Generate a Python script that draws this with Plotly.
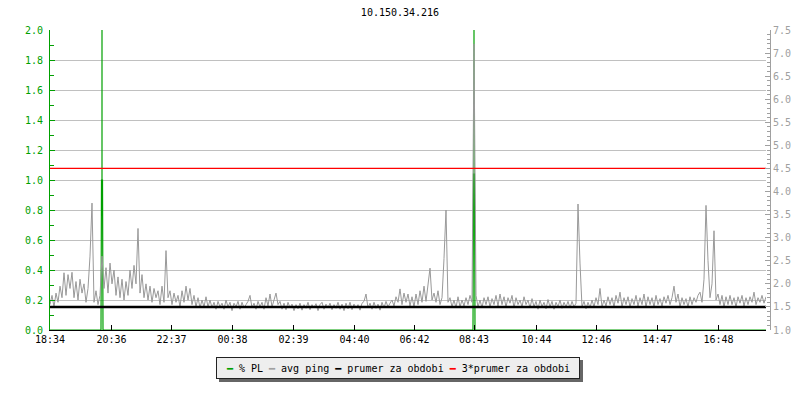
import plotly.graph_objects as go

MONO = "DejaVu Sans Mono"
GREEN = "#00a000"
GREY = "#999999"

title_text = "10.150.34.216"

# time axis in minutes from 18:34, one ping sample every 4 minutes
sample_step_min = 4
x_range_min = [0, 1432]
tick_minutes = [0, 123, 243, 365, 487, 609, 729, 848, 973, 1093, 1215, 1337]
tick_labels = ["18:34", "20:36", "22:37", "00:38", "02:39", "04:40",
               "06:42", "08:43", "10:44", "12:46", "14:47", "16:48"]

# avg ping (right axis)
ping_values = [
    1.55, 1.75, 1.5, 1.8, 1.6, 1.95, 1.7, 2.24, 1.75, 2.2, 1.9, 2.25, 1.7, 2.05, 1.65, 2.1, 1.8, 2.0, 1.6, 1.9,
    2.6, 3.75, 1.6, 1.85, 1.55, 1.75, 2.6, 1.9, 2.35, 1.8, 2.45, 2.0, 2.3, 1.75, 2.15, 1.7, 2.1, 1.65, 2.05, 1.75,
    2.3, 1.9, 2.4, 2.0, 3.2, 1.8, 2.2, 1.7, 2.0, 1.65, 1.95, 1.6, 1.9, 1.7, 1.85, 1.55, 1.95, 1.6, 2.72, 1.7,
    1.85, 1.55, 1.8, 1.6, 1.75, 1.5, 1.85, 1.6, 1.95, 1.65, 1.9, 1.55, 1.75, 1.5, 1.7, 1.48, 1.65, 1.5, 1.72, 1.5,
    1.65, 1.48, 1.6, 1.45, 1.62, 1.5, 1.58, 1.45, 1.65, 1.5, 1.6, 1.42, 1.58, 1.5, 1.62, 1.45, 1.6, 1.48, 1.55, 1.62,
    1.75, 1.48, 1.58, 1.45, 1.62, 1.5, 1.6, 1.45, 1.7, 1.52, 1.78, 1.5, 1.65, 1.8, 1.55, 1.62, 1.45, 1.58, 1.44, 1.6,
    1.48, 1.56, 1.42, 1.55, 1.46, 1.58, 1.43, 1.55, 1.47, 1.6, 1.44, 1.55, 1.48, 1.57, 1.42, 1.55, 1.6, 1.45, 1.56, 1.48,
    1.58, 1.44, 1.55, 1.47, 1.6, 1.45, 1.56, 1.42, 1.58, 1.46, 1.6, 1.44, 1.56, 1.48, 1.55, 1.43, 1.58, 1.62, 1.78, 1.48,
    1.58, 1.45, 1.6, 1.47, 1.56, 1.43, 1.6, 1.48, 1.62, 1.5, 1.58, 1.65, 1.52, 1.72, 1.6, 1.89, 1.55, 1.8, 1.6, 1.78,
    1.52, 1.72, 1.5, 1.78, 1.55, 1.85, 1.6, 1.95, 1.62, 2.05, 2.34, 1.65, 1.8, 1.6, 1.85, 1.55, 1.7, 2.55, 3.6, 1.6,
    1.7, 1.5, 1.65, 1.48, 1.72, 1.5, 1.65, 1.52, 1.7, 1.55, 1.75, 1.6, 7.2, 1.75, 1.5, 1.65, 1.48, 1.7, 1.55, 1.72,
    1.5, 1.68, 1.55, 1.75, 1.52, 1.78, 1.55, 1.72, 1.5, 1.7, 1.58, 1.75, 1.48, 1.7, 1.55, 1.65, 1.5, 1.72, 1.55, 1.65,
    1.48, 1.68, 1.5, 1.62, 1.45, 1.65, 1.5, 1.6, 1.46, 1.66, 1.5, 1.62, 1.45, 1.6, 1.5, 1.65, 1.47, 1.6, 1.5, 1.62,
    1.48, 1.62, 1.5, 1.58, 3.73, 2.45, 1.5, 1.62, 1.46, 1.6, 1.48, 1.65, 1.5, 1.7, 1.55, 1.9, 1.5, 1.65, 1.52, 1.72,
    1.55, 1.7, 1.5, 1.75, 1.58, 1.82, 1.5, 1.7, 1.55, 1.72, 1.5, 1.68, 1.55, 1.75, 1.52, 1.7, 1.55, 1.78, 1.5, 1.72,
    1.55, 1.7, 1.5, 1.75, 1.55, 1.68, 1.52, 1.72, 1.58, 1.75, 1.55, 1.7, 1.95, 1.6, 1.78, 1.5, 1.7, 1.55, 1.68, 1.5,
    1.72, 1.55, 1.7, 1.6, 1.75, 1.82, 1.6, 2.1, 3.7, 2.5, 1.7, 2.0, 3.15, 1.65, 1.78, 1.55, 1.75, 1.5, 1.72, 1.55,
    1.75, 1.55, 1.7, 1.5, 1.72, 1.58, 1.75, 1.52, 1.7, 1.55, 1.72, 1.6, 1.82, 1.55, 1.7, 1.6, 1.75, 1.58, 1.72,
]
ping_minutes = [i * sample_step_min for i in range(len(ping_values))]

# packet loss (left axis)
pl_minutes = [0, 102, 103, 104, 104, 104, 105, 106, 846, 847, 848, 848, 848, 849, 850, 1432]
pl_values = [0, 0, 1.0, 1.0, 2.5, 1.0, 1.0, 0, 0, 1.04, 1.04, 2.5, 1.04, 1.04, 0, 0]

# period mean of ping and 3x mean
mean_ping = 1.5
mean_ping_x3 = 4.5

fig = go.Figure()

fig.add_trace(go.Scatter(
    x=pl_minutes, y=pl_values, mode="lines",
    line=dict(color=GREEN, width=1.2), yaxis="y", showlegend=False,
))
fig.add_trace(go.Scatter(
    x=ping_minutes, y=ping_values, mode="lines",
    line=dict(color=GREY, width=1), yaxis="y2", showlegend=False,
))
fig.add_trace(go.Scatter(
    x=x_range_min, y=[mean_ping, mean_ping], mode="lines",
    line=dict(color="black", width=2.5), yaxis="y2", showlegend=False,
))
fig.add_trace(go.Scatter(
    x=x_range_min, y=[mean_ping_x3, mean_ping_x3], mode="lines",
    line=dict(color="#ff0000", width=1.2), yaxis="y2", showlegend=False,
))

# the page body has an 8px margin, so the figure is 792x392 and sits at (8, 8)
fig.update_layout(
    width=792,
    height=392,
    margin=dict(l=42, r=30, t=22, b=70),
    plot_bgcolor="white",
    paper_bgcolor="white",
    font=dict(family=MONO, size=10, color="black"),
    title=dict(text=title_text, x=(400 - 8) / 792, xanchor="center",
               y=1 - 4 / 392, yanchor="middle",
               font=dict(family=MONO, size=10, color="black")),
    xaxis=dict(
        domain=[0, 716 / 720],
        range=x_range_min,
        tickmode="array", tickvals=tick_minutes, ticktext=tick_labels,
        ticks="inside", ticklen=5, tickcolor="black",
        showline=True, linecolor="black", linewidth=1,
        showgrid=False, zeroline=False,
        tickfont=dict(family=MONO, size=10, color="black"),
        layer="above traces",
        automargin=False,
    ),
    yaxis=dict(
        range=[0, 2],
        dtick=0.2, tickformat=".1f",
        ticks="inside", ticklen=5, tickcolor=GREEN,
        minor=dict(dtick=0.1, ticks="inside", ticklen=4, tickcolor=GREEN, showgrid=False),
        showline=True, linecolor=GREEN, linewidth=1,
        showgrid=True, gridcolor="#c0c0c0", gridwidth=1,
        zeroline=False,
        tickfont=dict(family=MONO, size=10, color=GREEN),
        ticklabelstandoff=4,
        layer="above traces",
        automargin=False,
    ),
    yaxis2=dict(
        range=[1, 7.5],
        overlaying="y", side="right", anchor="free", position=1.0,
        dtick=0.5, tickformat=".1f",
        ticks="inside", ticklen=5, tickcolor="#a0a0a0",
        minor=dict(dtick=0.1, ticks="inside", ticklen=3, tickcolor="#a0a0a0", showgrid=False),
        showline=True, linecolor="#a0a0a0", linewidth=1,
        showgrid=False, zeroline=False,
        tickfont=dict(family=MONO, size=10, color="#a0a0a0"),
        automargin=False,
    ),
)

legend_text = (
    f"<span style='color:{GREEN}'>━</span> % PL "
    f"<span style='color:#a0a0a0'>━</span> avg ping "
    "<span style='color:black'>━</span> prumer za obdobi "
    "<span style='color:#ff0000'>━</span> 3*prumer za obdobi"
)

# shadow box first, legend box on top
legend_x = (398 - 50) / 720
legend_y = (330 - 368) / 300
fig.add_annotation(
    xref="paper", yref="paper", x=legend_x, y=legend_y,
    xanchor="center", yanchor="middle", xshift=3, yshift=-3,
    text=" ", showarrow=False, width=362, height=20,
    bgcolor="#666666", borderpad=0, borderwidth=1, bordercolor="#666666",
)
fig.add_annotation(
    xref="paper", yref="paper", x=legend_x, y=legend_y,
    xanchor="center", yanchor="middle",
    text=legend_text, showarrow=False, width=362, height=20,
    font=dict(family=MONO, size=10, color="black"),
    bgcolor="#eeeeee", borderpad=0, borderwidth=1, bordercolor="#222222",
)

fig.write_html("out.html")
